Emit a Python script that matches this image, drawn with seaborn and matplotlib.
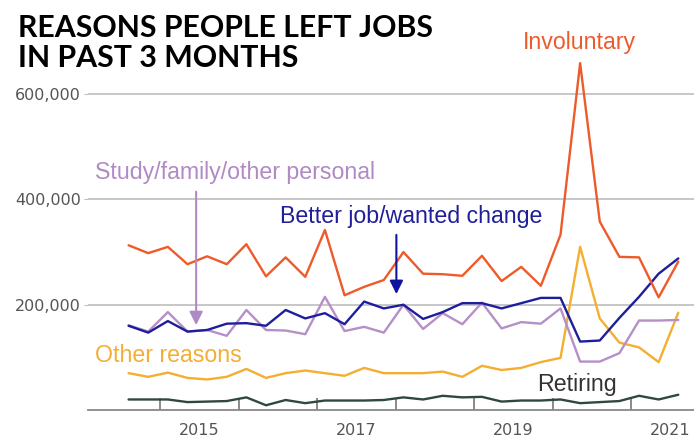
import numpy as np
import pandas as pd
import seaborn as sns
from matplotlib import pyplot as plt

# trimestres (2014T3 a 2021T3)
quarters = pd.period_range('2014Q3', '2021Q3', freq='Q')

# valores, en miles de personas
involuntary = [313, 298, 310, 277, 292, 277, 315, 254, 290, 253, 342, 218, 234, 247, 300,
               259, 258, 255, 293, 245, 272, 236, 333, 659, 358, 291, 290, 214, 282]
better_job = [160, 147, 169, 149, 152, 164, 165, 160, 190, 174, 184, 163, 206, 193, 200,
              173, 186, 203, 203, 193, 203, 213, 213, 130, 132, 175, 215, 259, 288]
study_family = [161, 149, 186, 149, 152, 141, 190, 152, 151, 144, 215, 150, 158, 147, 200,
                154, 184, 163, 204, 155, 167, 164, 193, 92, 92, 108, 170, 170, 171]
other_reasons = [70, 63, 71, 61, 58, 63, 78, 61, 70, 75, 70, 65, 80, 70, 70,
                 70, 73, 63, 84, 76, 80, 91, 99, 310, 174, 128, 119, 91, 185]
retiring = [20, 20, 20, 15, 16, 17, 24, 9, 19, 13, 18, 18, 18, 19, 24,
            20, 27, 24, 25, 16, 18, 18, 20, 13, 15, 17, 27, 20, 29]

series_names = ['Involuntary', 'Better job/wanted change', 'Study/family/other personal',
                'Other reasons', 'Retiring']
colors = ['#EE5B2B', '#1E1E9C', '#B58FC8', '#F4AE30', '#2F4A3D']
year_labels = ['2015', '', '2017', '', '2019', '', '2021']

# posición en el eje x (año decimal)
t = np.array([q.year + (q.quarter - 1) / 4 + 0.1 for q in quarters])

df = pd.concat([
    pd.DataFrame({'t': t, 'value': np.array(v) * 1000, 'reason': name})
    for name, v in zip(series_names,
                       [involuntary, better_job, study_family, other_reasons, retiring])
])

sns.set_style('white')
plt.rcParams['font.family'] = ['DejaVu Sans']

fig = plt.figure(figsize=(6.94, 4.40), dpi=100)
ax = fig.add_axes([88 / 694, 30 / 440, 1 - 88 / 694, 390 / 440])

sns.lineplot(data=df, x='t', y='value', hue='reason', palette=dict(zip(series_names, colors)),
             hue_order=series_names[::-1], linewidth=1.7, legend=False, ax=ax)

ax.set_xlim(2014.083, 2021.8)
ax.set_ylim(0, 741000)
ax.set_xlabel('')
ax.set_ylabel('')

# eje y
ax.set_yticks([200000, 400000, 600000])
ax.set_yticklabels(['200,000', '400,000', '600,000'], color='#555555', fontsize=11.5)
ax.yaxis.grid(True, color='#BDBDBD', linewidth=1.2)
ax.tick_params(axis='y', length=3, color='#BDBDBD', pad=2, left=True)
ax.set_axisbelow(True)

# eje x: marcas en el cambio de año, etiquetas a mitad de año
ax.set_xticks(range(2015, 2022))
ax.set_xticklabels([])
ax.set_xticks([y + 0.5 for y in range(2015, 2022)], minor=True)
ax.set_xticklabels(year_labels, minor=True, color='#555555', fontsize=11.5)
ax.tick_params(axis='x', which='major', direction='in', length=9, color='#777777', width=1.2,
               bottom=True)
ax.tick_params(axis='x', which='minor', length=0, pad=9)

for side in ['left', 'top', 'right']:
    ax.spines[side].set_visible(False)
ax.spines['bottom'].set_color('#888888')
ax.spines['bottom'].set_linewidth(1.3)

# etiquetas de las series
lab = dict(fontsize=16.7, family=['Liberation Sans', 'DejaVu Sans'], va='center')
ax.text(2020.34, 699000, 'Involuntary', color=colors[0], ha='center', **lab)
ax.text(2014.17, 452000, 'Study/family/other personal', color='#B08AC4', ha='left', **lab)
ax.text(2016.53, 368000, 'Better job/wanted change', color='#1F1F99', ha='left', **lab)
ax.text(2014.17, 104000, 'Other reasons', color='#F2AE35', ha='left', **lab)
ax.text(2019.80, 49000, 'Retiring', color='#333333', ha='left', **lab)

# flechas
ax.annotate('', xy=(2015.46, 156000), xytext=(2015.46, 420000),
            arrowprops=dict(arrowstyle='-|>', color='#B08AC4', lw=1.5, mutation_scale=20))
ax.annotate('', xy=(2018.01, 215000), xytext=(2018.01, 338000),
            arrowprops=dict(arrowstyle='-|>', color='#1212A0', lw=1.5, mutation_scale=20))

fig.text(18 / 694, 1 - 14 / 440, 'REASONS PEOPLE LEFT JOBS\nIN PAST 3 MONTHS',
         fontsize=21.8, fontweight='bold', family=['Lato', 'DejaVu Sans'], color='#000000',
         va='top', ha='left', linespacing=1.1)

fig.savefig('out.png', dpi=100)
